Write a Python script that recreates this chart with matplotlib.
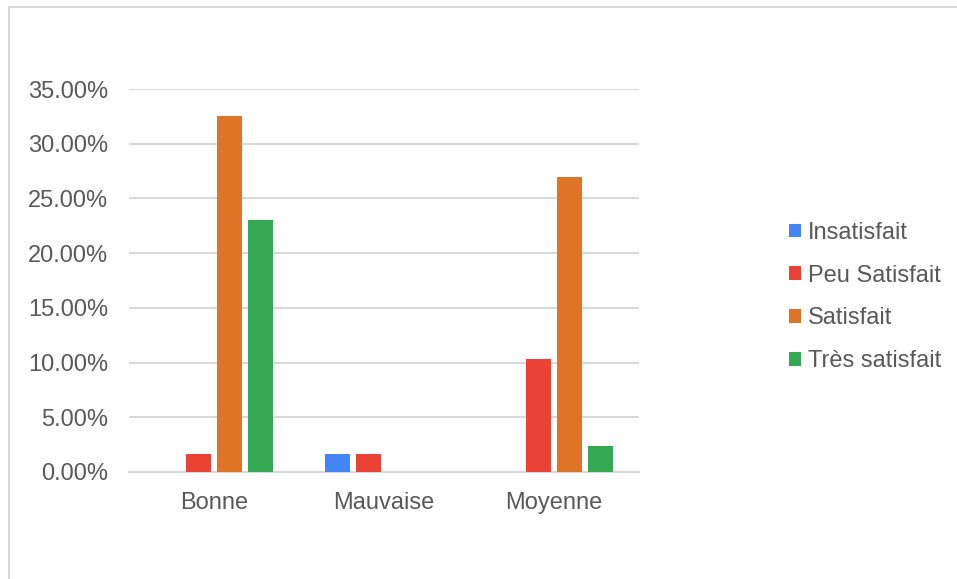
import numpy as np
import matplotlib
matplotlib.use("Agg")
import matplotlib.pyplot as plt
from matplotlib.lines import Line2D
from matplotlib.ticker import FuncFormatter

# Data
categories = ["Bonne", "Mauvaise", "Moyenne"]
series = ["Insatisfait", "Peu Satisfait", "Satisfait", "Très satisfait"]
insatisfait = [0.0, 0.0165, 0.0]
peu_satisfait = [0.0165, 0.0165, 0.103]
satisfait = [0.325, 0.0, 0.270]
tres_satisfait = [0.230, 0.0, 0.024]
colors = ["#4285F4", "#EA4335", "#E07426", "#34A853"]

values = [insatisfait, peu_satisfait, satisfait, tres_satisfait]

plt.rcParams["font.family"] = ["Liberation Sans", "DejaVu Sans"]
text_color = "#595959"
grid_color = "#d9d9d9"

fig = plt.figure(figsize=(9.57, 5.79), dpi=100)
ax = fig.add_axes([129 / 957, 107 / 579, 510 / 957, 383 / 579])

x = np.arange(len(categories))
pitch = 0.183
width = 0.145
for i, (name, vals) in enumerate(zip(series, values)):
    offset = (i - 1.5) * pitch
    ax.bar(x + offset, vals, width=width, color=colors[i], label=name,
           linewidth=0, zorder=3)

ax.set_xlim(-0.5, 2.5)
ax.set_ylim(0, 0.35)
ax.set_yticks(np.arange(0, 0.351, 0.05))
ax.yaxis.set_major_formatter(FuncFormatter(lambda v, p: f"{v * 100:.2f}%"))
ax.set_xticks(x)
ax.set_xticklabels(categories)

ax.grid(axis="y", color=grid_color, linewidth=1.5, zorder=0)
for s in ["top", "right", "left"]:
    ax.spines[s].set_visible(False)
ax.spines["bottom"].set_color(grid_color)
ax.spines["bottom"].set_linewidth(1.5)
ax.tick_params(axis="both", length=0, labelsize=17, colors=text_color)
ax.tick_params(axis="y", pad=15)
ax.tick_params(axis="x", pad=14.5)

ax.legend(loc="center left", bbox_to_anchor=(789 / 957, 282 / 579),
          bbox_transform=fig.transFigure, frameon=False, fontsize=17,
          handlelength=0.52, handleheight=0.52, handletextpad=0.3,
          labelspacing=0.88, borderpad=0, borderaxespad=0,
          labelcolor=text_color)

# light frame on the left and top edges
fig.add_artist(Line2D([9 / 957, 9 / 957], [0, 1 - 7 / 579], color=grid_color,
                      linewidth=1.5, transform=fig.transFigure))
fig.add_artist(Line2D([9 / 957, 1], [1 - 7 / 579, 1 - 7 / 579], color=grid_color,
                      linewidth=1.5, transform=fig.transFigure))

fig.savefig("out.png", dpi=100)
